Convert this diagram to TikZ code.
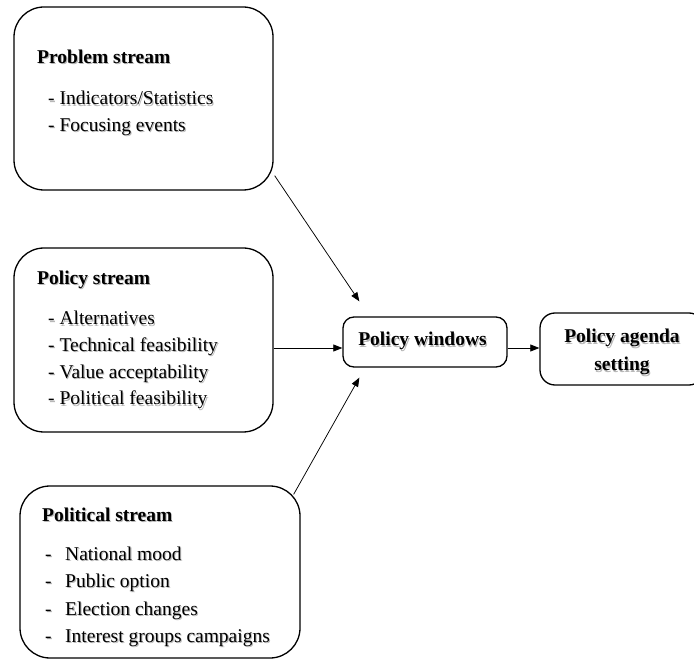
\documentclass[tikz,border=0pt]{standalone}
\usepackage{fontspec}
\setmainfont{Liberation Serif}
\usetikzlibrary{arrows.meta,calc}
\newcommand\shtxt[1]{\makebox[0pt][l]{\kern1.1pt\raisebox{-1.1pt}{\color{black!28}#1}}#1}
\begin{document}
\begin{tikzpicture}[x=1pt,y=-1pt,
  bigbox/.style={draw,line width=1.3pt,rounded corners=30pt,inner sep=0pt},
  smallbox/.style={draw,line width=1.3pt,rounded corners=11pt,inner sep=0pt},
  agbox/.style={draw,line width=1.3pt,rounded corners=15pt,inner sep=0pt},
  txt/.style={anchor=base west,inner sep=0pt,font=\fontsize{19.5}{22}\selectfont},
  ttl/.style={txt,font=\fontsize{19.5}{22}\selectfont\bfseries},
  ctxt/.style={anchor=base,inner sep=0pt,font=\fontsize{19.5}{22}\selectfont\bfseries},
  arr/.style={line width=0.75pt,-{Triangle[length=9pt,width=7pt]}}]
\useasboundingbox (0,0) rectangle (694,668);
% boxes
\node[bigbox,minimum width=259pt,minimum height=183pt] (prob) at (143.5,98.5) {};
\node[bigbox,minimum width=259pt,minimum height=184pt] (pol) at (143.5,340) {};
\node[bigbox,minimum width=280pt,minimum height=172pt] (polit) at (160,572) {};
\node[smallbox,minimum width=164pt,minimum height=50pt] (win) at (425,342) {};
\node[agbox,minimum width=164pt,minimum height=72pt] (ag) at (622,349) {};
% problem stream
\node[ttl] (pt) at (37,63.3) {\shtxt{Problem stream}};
\node[txt] (p1) at (48,105) {\shtxt{- Indicators/Statistics}};
\node[txt] (p2) at (48,131.5) {\shtxt{- Focusing events}};
% policy stream
\node[ttl] (lt) at (37,284.3) {\shtxt{Policy stream}};
\node[txt] (l1) at (48,325) {\shtxt{- Alternatives}};
\node[txt] (l2) at (48,351.7) {\shtxt{- Technical feasibility}};
\node[txt] (l3) at (48,378.3) {\shtxt{- Value acceptability}};
\node[txt] (l4) at (48,405) {\shtxt{- Political feasibility}};
% political stream
\node[ttl] (ot) at (42,521) {\shtxt{Political stream}};
\node[txt] (od1) at (45,560.7) {\shtxt{-}};
\node[txt] (o1) at (65,560.7) {\shtxt{National mood}};
\node[txt] (od2) at (45,587.5) {\shtxt{-}};
\node[txt] (o2) at (65,587.5) {\shtxt{Public option}};
\node[txt] (od3) at (45,615) {\shtxt{-}};
\node[txt] (o3) at (65,615) {\shtxt{Election changes}};
\node[txt] (od4) at (45,642) {\shtxt{-}};
\node[txt] (o4) at (65,642) {\shtxt{Interest groups campaigns}};
% windows & agenda
\node[ctxt] (wt) at (422.5,346) {\shtxt{Policy windows}};
\node[ctxt] (a1) at (622,343) {\shtxt{Policy agenda}};
\node[ctxt] (a2) at (622,371) {\shtxt{setting}};
% connectors
\draw[arr] ([shift={(1,-15)}]prob.south east) -- ([shift={(17,-15)}]win.north west);
\draw[arr] ([shift={(-7,9)}]polit.north east) -- ([shift={(17,10)}]win.south west);
\draw[arr] ([yshift=-8]pol.east) -- ([yshift=-8]pol.east -| win.west);
\draw[arr] ([yshift=-6]win.east) -- ([yshift=-6]win.east -| ag.west);
\end{tikzpicture}
\end{document}
